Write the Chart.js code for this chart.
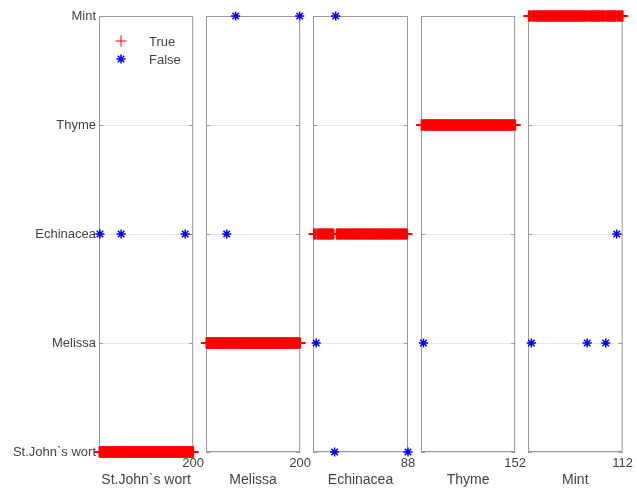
<!DOCTYPE html>
<html>
<head>
<meta charset="utf-8">
<script src="https://cdn.jsdelivr.net/npm/chart.js@4/dist/chart.umd.min.js"></script>
<style>
  html, body { margin: 0; padding: 0; background: #fff; }
  #wrap { position: relative; width: 637px; height: 491px; overflow: hidden; }
  #wrap canvas { position: absolute; top: 0; }
</style>
</head>
<body>
<div id="wrap"></div>
<script>
// class names, bottom to top on the y axis
const classNames = ['St.John`s wort', 'Melissa', 'Echinacea', 'Thyme', 'Mint'];
// number of test samples for each true class (one panel per class)
const sampleCounts = [200, 200, 88, 152, 112];
// misclassified samples: index in the test set and the predicted class (1..5)
const wrongIdx = [[2, 47, 183], [44, 63, 199], [3, 20, 21, 88], [4], [4, 70, 92, 105]];
const wrongClass = [[3, 3, 3], [3, 5, 5], [2, 1, 5, 1], [2], [2, 2, 2, 3]];
const legendLabels = ['True', 'False'];

// panel geometry (plot box left edge and width)
const panelLefts = [99, 206, 313, 421, 528];
const panelWidth = 95;
const plotTop = 16, plotBottom = 452, pageH = 491;

const FONT = "'Liberation Sans', Arial, sans-serif";
const textColor = '#444';
const boxColor = '#9a9a9a';

// box round the plot + inward tick marks
const boxPlugin = {
    id: 'box',
    beforeDatasetsDraw(chart) {
        const a = chart.chartArea, ctx = chart.ctx, y = chart.scales.y;
        ctx.save();
        ctx.strokeStyle = boxColor;
        ctx.lineWidth = 1;
        ctx.strokeRect(a.left + 0.5, a.top + 0.5, a.right - a.left - 1, a.bottom - a.top - 1);
        ctx.beginPath();
        for (let v = 1; v <= classNames.length; v++) {
            const py = Math.round(y.getPixelForValue(v)) + 0.5;
            ctx.moveTo(a.left, py); ctx.lineTo(a.left + 4, py);
            ctx.moveTo(a.right, py); ctx.lineTo(a.right - 4, py);
        }
        ctx.stroke();
        ctx.restore();
    }
};

// legend drawn inside the first panel
const insideLegend = {
    id: 'insideLegend',
    afterDatasetsDraw(chart) {
        if (!chart.options.plugins.insideLegend || !chart.options.plugins.insideLegend.show) return;
        const a = chart.chartArea, ctx = chart.ctx;
        ctx.save();
        chart.data.datasets.forEach((ds, i) => {
            const px = a.left + 22, py = a.top + 25 + i * 18;
            ctx.strokeStyle = ds.borderColor;
            ctx.fillStyle = ds.borderColor;
            ctx.lineWidth = ds.legendLineWidth;
            Chart.helpers.drawPoint(ctx, {
                pointStyle: ds.pointStyle, radius: ds.legendRadius, rotation: 0, borderWidth: ds.legendLineWidth
            }, px, py);
            ctx.fillStyle = textColor;
            ctx.font = '13px ' + FONT;
            ctx.textBaseline = 'middle';
            ctx.fillText(ds.label, a.left + 50, py + 1);
        });
        ctx.restore();
    }
};

const wrap = document.getElementById('wrap');

classNames.forEach((name, p) => {
    const cls = p + 1;
    const n = sampleCounts[p];
    const first = p === 0;
    const padLeft = first ? panelLefts[0] : 12;
    const padRight = 14;

    const truePts = [];
    for (let i = 1; i <= n; i++) {
        if (wrongIdx[p].indexOf(i) < 0) truePts.push({ x: i, y: cls });
    }
    const falsePts = wrongIdx[p].map((i, k) => ({ x: i, y: wrongClass[p][k] }));

    const canvas = document.createElement('canvas');
    const w = padLeft + panelWidth + padRight;
    canvas.width = w; canvas.height = pageH;
    canvas.style.left = (panelLefts[p] - padLeft) + 'px';
    canvas.style.width = w + 'px'; canvas.style.height = pageH + 'px';
    wrap.appendChild(canvas);

    new Chart(canvas, {
        type: 'scatter',
        data: {
            datasets: [{
                label: legendLabels[0],
                data: truePts,
                pointStyle: 'cross',
                pointRadius: 5.5,
                borderColor: '#ff0000',
                backgroundColor: '#ff0000',
                borderWidth: 2,
                legendRadius: 5.5,
                legendLineWidth: 1,
                clip: false
            }, {
                label: legendLabels[1],
                data: falsePts,
                pointStyle: 'star',
                pointRadius: 4.6,
                borderColor: '#0000ff',
                backgroundColor: '#0000ff',
                borderWidth: 1.5,
                legendRadius: 4.6,
                legendLineWidth: 1.5,
                clip: false
            }]
        },
        options: {
            responsive: false,
            animation: false,
            devicePixelRatio: 1,
            layout: { padding: { top: plotTop, right: padRight, left: 0, bottom: 0 } },
            plugins: {
                legend: { display: false },
                tooltip: { enabled: false },
                insideLegend: { show: first }
            },
            scales: {
                x: {
                    type: 'linear',
                    min: 0,
                    max: n,
                    afterBuildTicks: (axis) => { axis.ticks = [{ value: n }]; },
                    afterFit: (axis) => { axis.height = pageH - plotBottom; },
                    grid: { display: false, drawTicks: false },
                    border: { display: false },
                    ticks: {
                        padding: 4,
                        color: textColor,
                        font: { family: FONT, size: 13 },
                        maxRotation: 0
                    },
                    title: {
                        display: true,
                        text: name,
                        color: textColor,
                        font: { family: FONT, size: 14 },
                        padding: { top: 0, bottom: 2 }
                    }
                },
                y: {
                    type: 'linear',
                    min: 1,
                    max: classNames.length,
                    afterBuildTicks: (axis) => { axis.ticks = classNames.map((c, i) => ({ value: i + 1 })); },
                    afterFit: (axis) => { axis.width = padLeft; },
                    grid: { color: '#e6e6e6', drawTicks: false, lineWidth: 1 },
                    border: { display: false },
                    ticks: {
                        display: first,
                        padding: 3,
                        color: textColor,
                        font: { family: FONT, size: 13 },
                        callback: (v) => classNames[v - 1]
                    }
                }
            }
        },
        plugins: [boxPlugin, insideLegend]
    });
});
</script>
</body>
</html>
